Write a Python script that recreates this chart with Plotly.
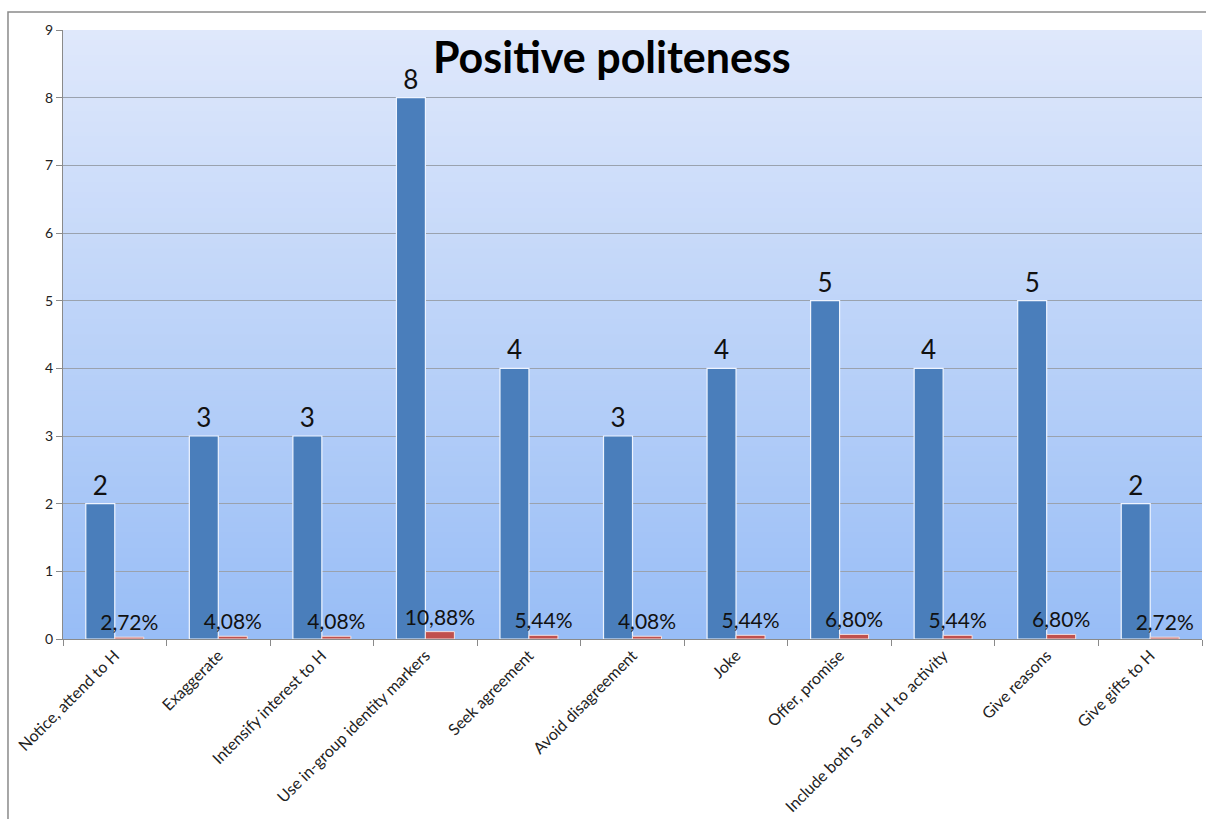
import plotly.graph_objects as go

categories = ["Notice, attend to H", "Exaggerate", "Intensify interest to H",
              "Use in-group identity markers", "Seek agreement", "Avoid disagreement",
              "Joke", "Offer, promise", "Include both S and H to activity",
              "Give reasons", "Give gifts to H"]
counts = [2, 3, 3, 8, 4, 3, 4, 5, 4, 5, 2]
percent = [2.72, 4.08, 4.08, 10.88, 5.44, 4.08, 5.44, 6.80, 5.44, 6.80, 2.72]
y_ticks = [0, 1, 2, 3, 4, 5, 6, 7, 8, 9]

pct_vals = [p / 100 for p in percent]
pct_text = [f"{p:.2f}%".replace(".", ",") for p in percent]

fig = go.Figure()
fig.add_trace(go.Bar(
    x=categories, y=counts, name="Count",
    marker=dict(color="#4a7ebb", line=dict(color="#eef4ff", width=1.2)),
    text=[str(c) for c in counts], textposition="outside", constraintext="none",
    textfont=dict(size=26, color="#111111", family="Lato"), cliponaxis=False,
))
fig.add_trace(go.Bar(
    x=categories, y=pct_vals, name="Percent",
    marker=dict(color="#c0504d", line=dict(color="#f4e0e0", width=1)),
    text=pct_text, textposition="outside", constraintext="none",
    textfont=dict(size=21, color="#111111", family="Lato"), cliponaxis=False,
))

# vertical gradient background (overlapping bands to avoid seams)
shapes = []
n = 120
top = (223, 232, 251)
bot = (152, 189, 246)
for i in range(n):
    t = i / (n - 1)
    c = tuple(round(top[k] + (bot[k] - top[k]) * t) for k in range(3))
    shapes.append(dict(type="rect", xref="x domain", yref="y domain",
                       x0=0, x1=1, y0=0, y1=1 - i / n,
                       fillcolor=f"rgb{c}", line=dict(width=0), layer="below"))
# outer chart border
shapes.append(dict(type="rect", xref="paper", yref="paper",
                   x0=-0.0483, x1=1.01, y0=-0.5, y1=1.0295,
                   line=dict(color="#8a8a8a", width=1.5), fillcolor="rgba(0,0,0,0)"))

fig.update_layout(
    width=1206, height=819,
    margin=dict(l=63, r=4, t=30, b=178),
    paper_bgcolor="white", plot_bgcolor="rgba(0,0,0,0)",
    barmode="group", bargap=0.44, bargroupgap=0.0,
    showlegend=False,
    shapes=shapes,
    font=dict(family="Lato", color="#222222"),
    annotations=[dict(text="<b>Positive politeness</b>", xref="paper", yref="paper",
                      x=0.482, y=0.956, xanchor="center", yanchor="middle",
                      showarrow=False, font=dict(size=43, color="#000000", family="Lato"))],
)
fig.update_xaxes(
    tickangle=-45, tickfont=dict(size=16, color="#222222"),
    showline=True, linecolor="#8a8a8a", linewidth=1,
    ticks="outside", tickson="boundaries", ticklen=6, tickcolor="#8a8a8a",
    showgrid=False,
)
fig.update_yaxes(
    range=[0, 9], tickvals=y_ticks, tickfont=dict(size=14, color="#222222"),
    showline=True, linecolor="#8a8a8a", linewidth=1,
    ticks="outside", ticklen=6, tickcolor="#8a8a8a",
    showgrid=True, gridcolor="#9aa2ae", gridwidth=1, zeroline=False,
)

fig.write_html("out.html", config={"displayModeBar": False},
               post_script="document.body.style.margin='0';document.body.style.overflow='hidden';")
